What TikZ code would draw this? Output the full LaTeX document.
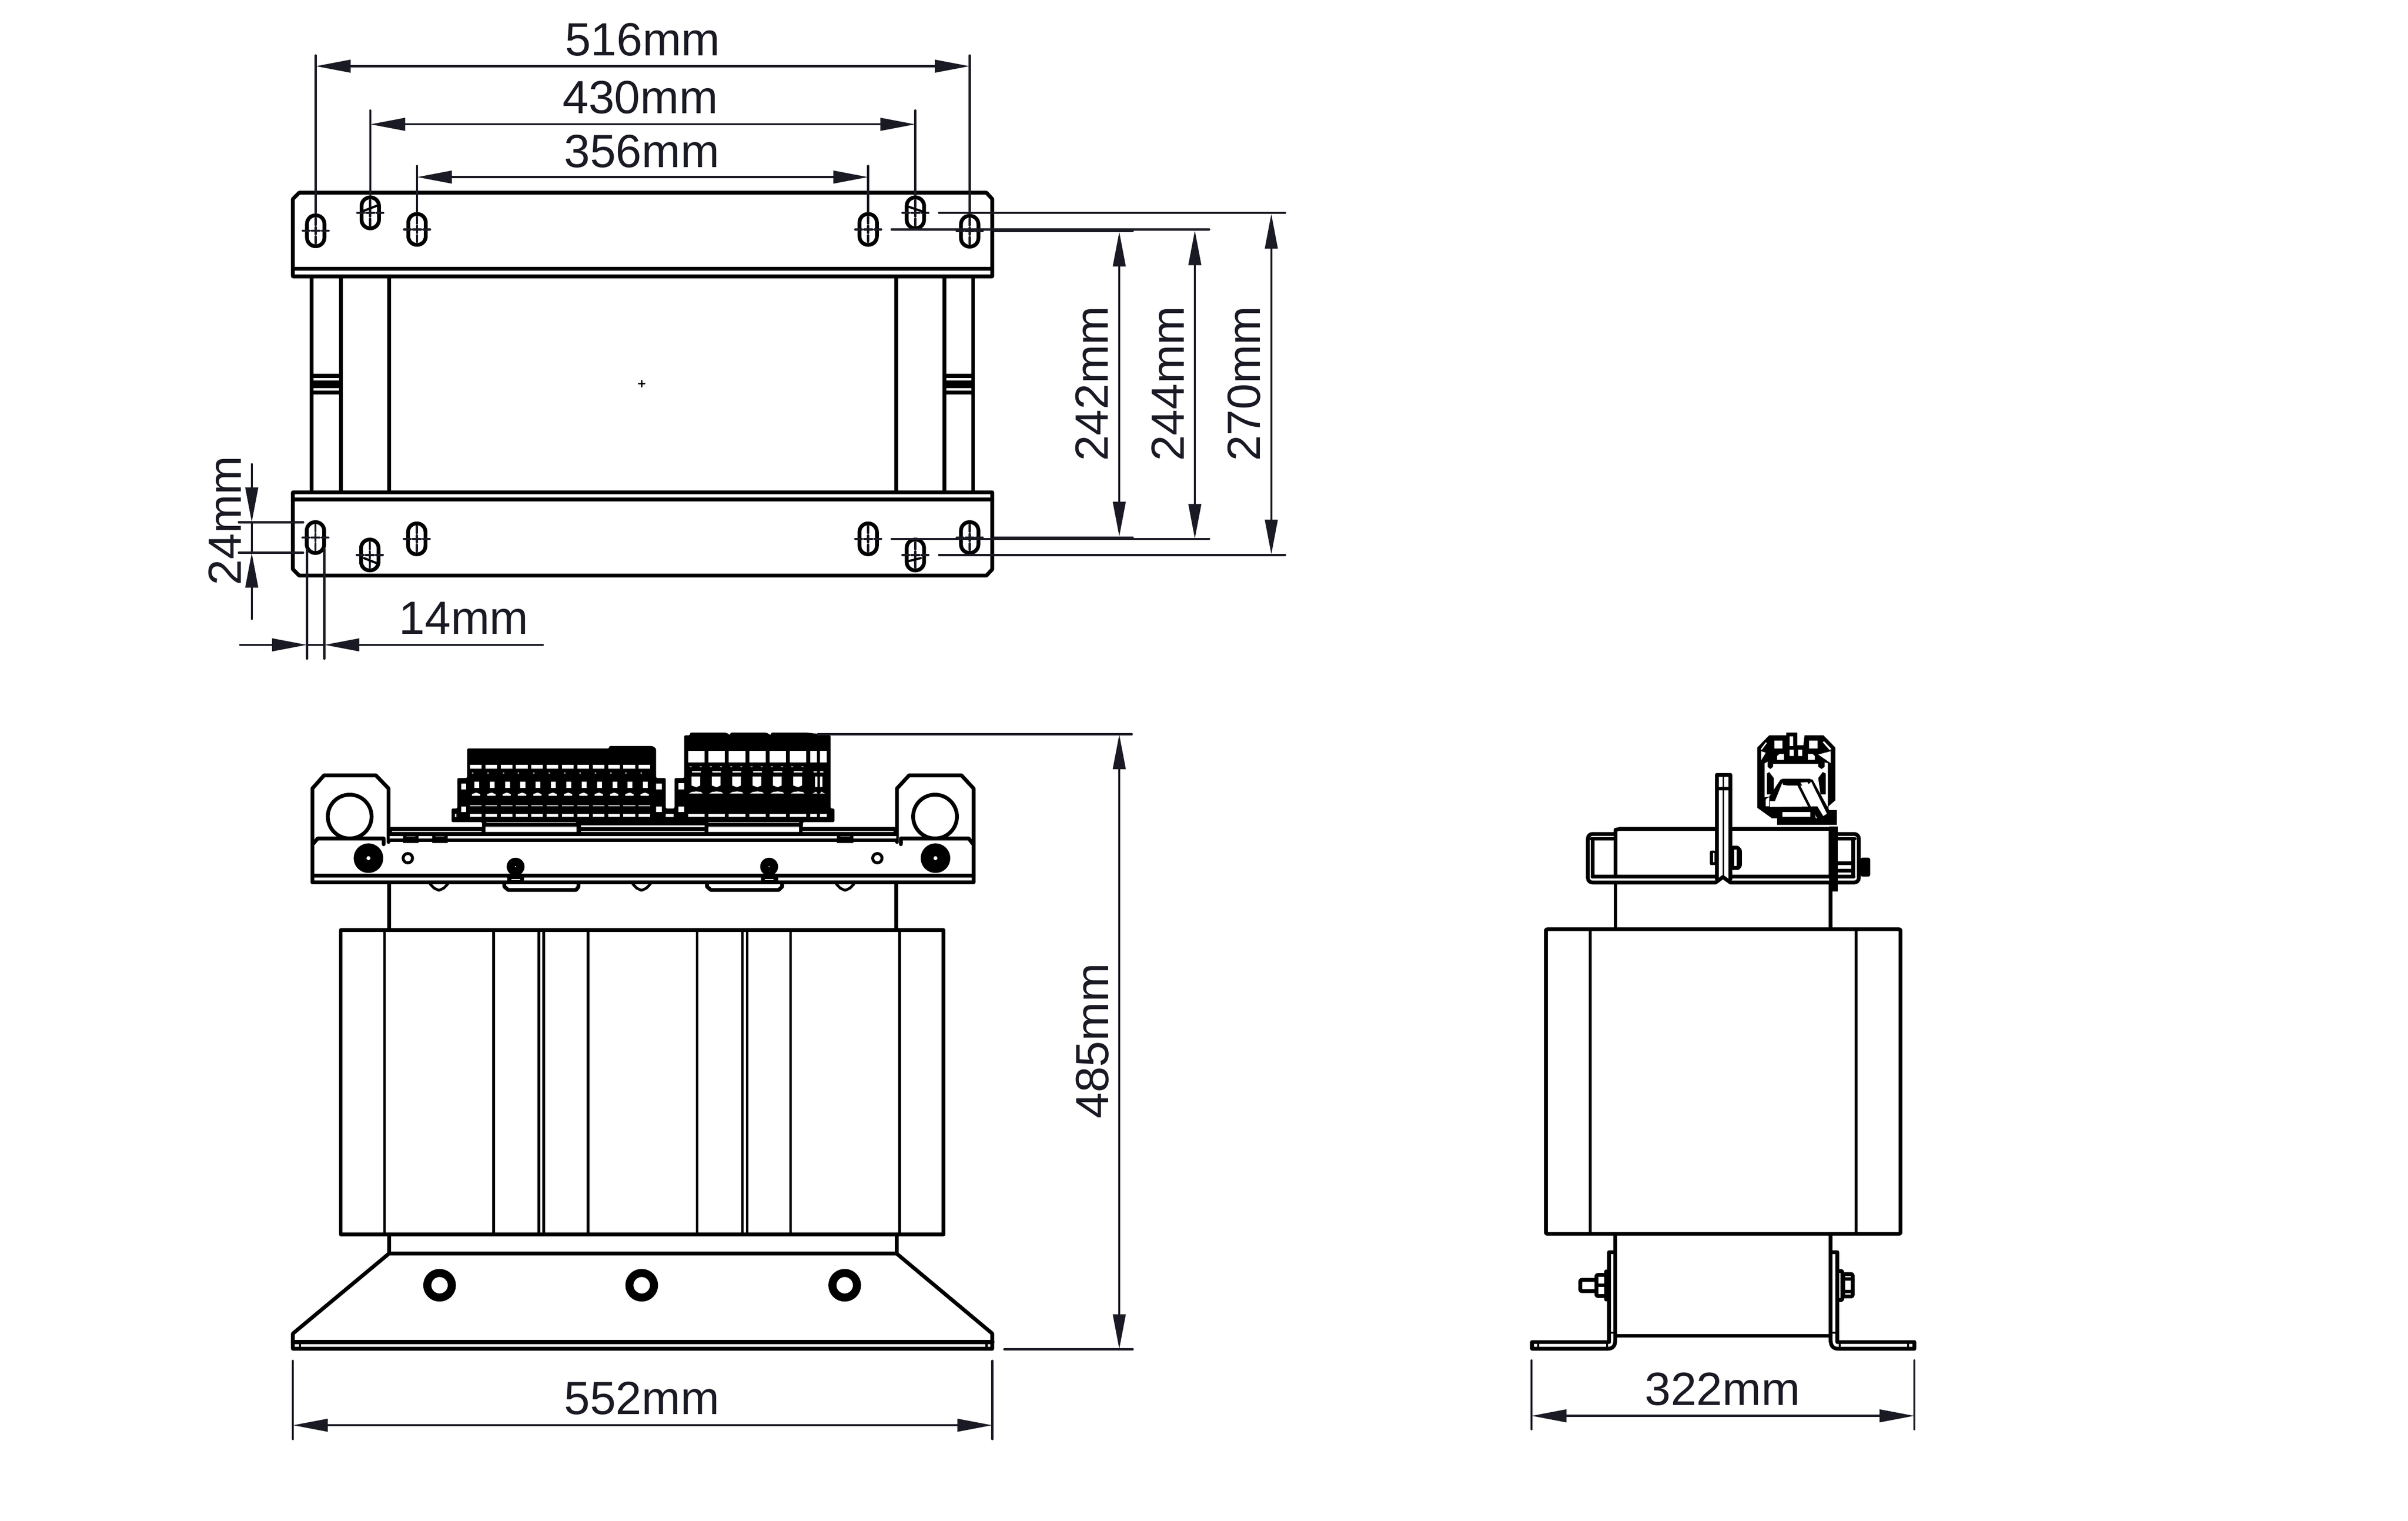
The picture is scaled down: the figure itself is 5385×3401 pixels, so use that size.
\documentclass[tikz,border=0pt]{standalone}
\usepackage{fontspec}
\setmainfont{Liberation Sans}
\usetikzlibrary{arrows.meta}
\definecolor{dimc}{HTML}{1A1A24}
\tikzset{
  obj/.style={draw=black,line width=.085cm,line join=round,line cap=round},
  objthin/.style={draw=black,line width=.05cm,line join=round,line cap=round},
  dimline/.style={draw=dimc,line width=.048cm,line cap=round},
  dimhead/.style={-{Triangle[length=.78cm,width=.28cm]}},
  dimboth/.style={{Triangle[length=.78cm,width=.28cm]}-{Triangle[length=.78cm,width=.28cm]}},
  dimlabel/.style={text=dimc,inner sep=0pt,anchor=base,font=\fontsize{29.6}{29.6}\selectfont},
}
\newcommand{\slotmark}[2]{%
  \draw[obj,rounded corners=.19cm] (#1-19.5,#2-34.5) rectangle (#1+19.5,#2+34.5);
  \draw[dimline,line width=.05cm] (#1-29,#2)--(#1-14,#2) (#1-9,#2)--(#1+9,#2) (#1+14,#2)--(#1+29,#2)
     (#1,#2-28)--(#1,#2-13) (#1,#2-8)--(#1,#2+8) (#1,#2+13)--(#1,#2+28);}
\begin{document}
\begin{tikzpicture}[x=.01cm,y=-.01cm]
\useasboundingbox (0,0) rectangle (5385,3401);
% ================= TOP VIEW
\draw[obj] (669,431)--(2206,431)--(2219,445)--(2219,618)--(655,618)--(655,445)--cycle;
\draw[obj] (655,601)--(2219,601);
\draw[obj] (655,1101)--(2219,1101)--(2219,1273)--(2206,1287)--(669,1287)--(655,1273)--cycle;
\draw[obj] (655,1117)--(2219,1117);
\foreach \x in {697,762.5,870,2004.6,2111.7,2176} \draw[obj] (\x,618)--(\x,1101);
\foreach \a/\b in {697/762.5,2111.7/2176}{
  \fill[black] (\a,836) rectangle (\b,845);
  \fill[black] (\a,851) rectangle (\b,868);
  \fill[black] (\a,873) rectangle (\b,882);
}
\draw[objthin,line width=.03cm] (1428,858)--(1442,858) (1435,851)--(1435,865);
\slotmark{706}{516}\slotmark{828}{476}\slotmark{932.6}{513}
\slotmark{1941.5}{513}\slotmark{2047}{476}\slotmark{2168.5}{517}
\slotmark{705.4}{1202}\slotmark{827}{1241}\slotmark{932}{1205}
\slotmark{1941.5}{1205}\slotmark{2047}{1241}\slotmark{2168.5}{1202}
\draw[objthin] (812,472)--(843,460) (2031,462)--(2069,475) (814,1248)--(844,1260) (2031,1255)--(2059,1248);
% top dims
\draw[dimline] (706,124)--(706,475) (2168.5,124)--(2168.5,478);
\draw[dimline] (828,247)--(828,436) (2047,247)--(2047,436);
\draw[dimline] (932.6,371)--(932.6,473) (1941.5,371)--(1941.5,473);
\draw[dimline,dimboth] (706,148)--(2168.5,148);
\draw[dimline,dimboth] (828,278)--(2047,278);
\draw[dimline,dimboth] (932.6,396)--(1941.5,396);
\node[dimlabel] (l516) at (1437,124) {516mm};
\node[dimlabel] (l430) at (1432,254) {430mm};
\node[dimlabel] (l356) at (1435,374) {356mm};
% right dims top view
\draw[dimline] (2100,476)--(2874,476) (1994,513)--(2704,513) (2224,517)--(2533,517);
\draw[dimline] (2100,1241)--(2874,1241) (1994,1205)--(2704,1205) (2224,1202)--(2533,1202);
\draw[dimline,dimboth] (2503,518)--(2503,1200);
\draw[dimline,dimboth] (2672,515)--(2672,1205);
\draw[dimline,dimboth] (2843,478)--(2843,1240);
\node[dimlabel,rotate=90] (l242) at (2478,858) {242mm};
\node[dimlabel,rotate=90] (l244) at (2648,858) {244mm};
\node[dimlabel,rotate=90] (l270) at (2818,858) {270mm};
% 24 mm
\draw[dimline] (534,1168)--(678,1168) (534,1236)--(678,1236);
\draw[dimline,dimhead] (563,1038)--(563,1168);
\draw[dimline,dimhead] (563,1384)--(563,1236);
\draw[dimline] (563,1168)--(563,1236);
\node[dimlabel,rotate=90] (l24) at (539,1164) {24mm};
% 14 mm
\draw[dimline] (686.5,1228)--(686.5,1473) (725.5,1228)--(725.5,1473);
\draw[dimline,dimhead] (537,1442)--(686.5,1442);
\draw[dimline,dimhead] (1214,1442)--(725.5,1442);
\draw[dimline] (686.5,1442)--(725.5,1442);
\node[dimlabel] (l14) at (1037,1418) {14mm};
% ================= FRONT VIEW
% core
\draw[obj] (762,2080)--(2110,2080)--(2110,2760)--(762,2760)--cycle;
\foreach \x in {860,1104,1205,1216,1315,1559,1660,1671,1768,2012} \draw[obj,line width=.06cm] (\x,2080)--(\x,2760);
% base
\draw[obj] (870,2760)--(870,2803) (2005,2760)--(2005,2803);
\draw[obj] (870,2803)--(2005,2803)--(2219,2982)--(2219,3016)--(655,3016)--(655,2982)--cycle;
\draw[obj,line width=.1cm] (655,3001)--(2219,3001);
\draw[objthin] (671,3001)--(671,3016) (2206,3001)--(2206,3016);
\foreach \x in {983,1435,1889} \draw[obj,line width=.18cm] (\x,2874) circle[radius=27.5];
% posts upper
\draw[obj] (870,1978)--(870,2080) (2004,1978)--(2004,2080);
% ears circles
\draw[obj] (782,1826) circle[radius=49];
\draw[obj] (2091,1826) circle[radius=49];
\begin{scope}[shift={(600,1600)},x=.01084cm,y=-.003333cm]
  % ears and plate
  \draw[obj] (91,1120)--(91,490)--(115,402)--(222,402)--(248,490)--(248,850);
  \draw[obj] (1297,850)--(1297,490)--(1322,402)--(1430,402)--(1455,490)--(1455,1120);
  \draw[obj] (91,1120)--(1455,1120);
  \draw[obj] (91,1075)--(1455,1075);
  \draw[obj] (93,860)--(102,826)--(238,826)--(238,865);
  \draw[obj] (1305,865)--(1305,826)--(1445,826)--(1453,860);
  % tabs and bumps
  \foreach \x in {352,770,1190} \draw[obj,line width=.06cm] (\x-18,1133)--(\x-10,1160)--(\x,1175)--(\x+10,1160)--(\x+18,1133);
  \draw[obj] (487,1133)--(487,1150)--(495,1172)--(635,1172)--(640,1150)--(640,1133);
  \draw[obj] (905,1133)--(905,1150)--(913,1172)--(1053,1172)--(1060,1150)--(1060,1133);
  % nibs
  \fill[black] (493,1075) rectangle (527,1108); \fill[white] (502,1097) rectangle (520,1106);
  \fill[black] (1016,1075) rectangle (1052,1108); \fill[white] (1024,1097) rectangle (1042,1106);
  % rail
  \fill[black] (250,750) rectangle (1295,850);
  \fill[white] (255,776) rectangle (440,782) (645,776) rectangle (900,782) (1102,776) rectangle (1290,782);
  \fill[white] (448,747) rectangle (636,782) (908,747) rectangle (1095,782);
  \fill[white] (645,738) rectangle (900,750);
  \fill[white] (250,810) rectangle (1295,825);
  \fill[black] (278,810) rectangle (310,857) (338,810) rectangle (370,857) (1173,810) rectangle (1207,857);
  \fill[white] (285,813) rectangle (303,816) (345,813) rectangle (363,816) (1180,813) rectangle (1200,816);
  % terminal bodies
  \fill[black,rounded corners=.03cm] (410,222)--(703,222)--(703,205)--(793,205)--(800,222)--(800,420)--(820,420)--(820,625)--(838,625)--(838,420)--(858,420)--(858,133)--(870,133)--(870,115)--(945,115)--(953,133)--(953,115)--(1028,115)--(1037,133)--(1037,115)--(1112,115)--(1160,133)--(1160,625)--(1168,625)--(1168,716)--(1103,716)--(1103,750)--(441,750)--(441,716)--(378,716)--(378,625)--(390,625)--(390,420)--(410,420)--cycle;
  \fill[black] (441,716) rectangle (1103,750);
  \fill[white] (450,716) rectangle (635,720) (908,716) rectangle (1095,720);
  \fill[white] (448,747) rectangle (636,750) (908,747) rectangle (1095,750) (645,738) rectangle (900,750);
  \foreach \i in {0,...,11}{
    \pgfmathsetmacro{\xa}{416+31.65*\i}
    \fill[white] (\xa,330) rectangle (\xa+24,357);
    \fill[white] (\xa+4,384) rectangle (\xa+7,389);
    \fill[white] (\xa+9,445) rectangle (\xa+19,488);
    \fill[white] (\xa+4,540)--(\xa+4,528)--(\xa+13,518)--(\xa+21,528)--(\xa+21,540)--cycle;
    \fill[white] (\xa,603) rectangle (\xa+24,611);
    \fill[white] (\xa,662) rectangle (\xa+24,682);
  }
  \fill[white] (398,457) rectangle (408,497) (800,457) rectangle (812,497) (398,612) rectangle (408,648) (800,612) rectangle (812,648);
  \fill[white] (846,455) rectangle (858,497) (846,612) rectangle (858,648) (385,662) rectangle (388,682) (820,662) rectangle (836,682);
  \foreach \i in {0,...,5}{
    \pgfmathsetmacro{\xb}{866+42*\i}
    \fill[white] (\xb,238) rectangle (\xb+34,315);
    \fill[white] (\xb,662) rectangle (\xb+34,682);
    \fill[white] (\xb+8,375) rectangle (\xb+26,383);
    \fill[white] (\xb+7,410)--(\xb+7,470)--(\xb+17,482)--(\xb+25,470)--(\xb+25,410)--cycle;
    \fill[white] (\xb+2,524)--(\xb+7,514)--(\xb+17,510)--(\xb+27,514)--(\xb+30,524)--cycle;
    \fill[white] (\xb+3,342) rectangle (\xb+7,347) (\xb+24,342) rectangle (\xb+28,347);
  }
  \fill[white] (1118,238) rectangle (1132,315) (1138,238) rectangle (1152,315);
  \fill[white] (1118,662) rectangle (1132,682) (1138,662) rectangle (1152,682);
  \fill[white] (1125,375) rectangle (1132,383) (1138,375) rectangle (1145,383);
  \fill[white] (1128,410) rectangle (1133,480) (1138,410) rectangle (1143,480);
  \fill[white] (1123,524)--(1130,512)--(1133,524)--cycle (1138,524)--(1141,512)--(1148,524)--cycle;
\end{scope}
% screws
\foreach \x in {824,2092}{\fill[black] (\x,1919) circle[radius=33]; \fill[white] (\x,1919) circle[radius=4.5];}
\foreach \x in {912,1962}\draw[obj,line width=.065cm] (\x,1919) circle[radius=10.5];
\foreach \x in {1153,1720}{\fill[black] (\x,1938) circle[radius=20]; \fill[white] (\x,1938) circle[radius=1.5];}
% front dims
\draw[dimline] (655,3043)--(655,3218) (2219,3043)--(2219,3218);
\draw[dimline,dimboth] (655,3187)--(2219,3187);
\node[dimlabel] (l552) at (1435,3163) {552mm};
\draw[dimline] (1829,1642)--(2531,1642) (2246,3017)--(2533,3017);
\draw[dimline,dimboth] (2503,1642)--(2503,3017);
\node[dimlabel,rotate=90] (l485) at (2479,2328) {485mm};
% ================= SIDE VIEW
\draw[obj,rounded corners=.03cm] (3457,2078)--(4250,2078)--(4250,2759)--(3457,2759)--cycle;
\draw[obj,line width=.06cm] (3556,2078)--(3556,2759) (4151,2078)--(4151,2759);
\draw[obj] (3612,2759)--(3612,3000) (4094,2759)--(4094,3000);
\draw[obj] (3612,2987)--(4094,2987);
\draw[obj] (3598.5,3001)--(3598.5,2800)--(3612,2800);
\draw[obj] (4109,3001)--(4109,2800)--(4094,2800);
% feet
\draw[obj] (3598,3001)--(3426,3001)--(3426,3016)--(3595,3016) .. controls (3606,3016) and (3612,3010) .. (3612,2998);
\draw[obj] (4109,3001)--(4281,3001)--(4281,3016)--(4111,3016) .. controls (4100,3016) and (4094,3010) .. (4094,2998);
\draw[objthin] (3440,3003)--(3440,3014) (3594,3003)--(3594,3014) (4114,3003)--(4114,3014) (4267,3003)--(4267,3014);
\draw[objthin] (3598,2980)--(3612,2980) (4094,2980)--(4109,2980);
% bolts lower
\draw[obj,rounded corners=.03cm] (3569,2862)--(3534,2862)--(3534,2887)--(3569,2887);
\draw[obj,rounded corners=.03cm] (3591,2851)--(3570,2851)--(3570,2898)--(3591,2898);
\draw[obj] (3570,2874)--(3591,2874);
\draw[obj] (3592,2843)--(3592,2906);
\draw[obj,rounded corners=.03cm] (4111,2842)--(4120,2842)--(4120,2907)--(4111,2907);
\draw[obj,rounded corners=.03cm] (4122,2849)--(4143,2849)--(4143,2899)--(4122,2899)--cycle;
\draw[obj] (4122,2860)--(4143,2860) (4122,2888)--(4143,2888);
\begin{scope}[shift={(3500,1600)},x=.005102cm,y=-.003333cm]
  % posts
  \draw[obj] (221,1125)--(221,1430) (1165,1125)--(1165,1430);
  % left band
  \draw[obj,rounded corners=.1cm] (215,796)--(100,796)--(100,1122)--(660,1122);
  \draw[obj] (120,840)--(120,1083);
  \draw[obj] (115,828)--(215,828);
  \draw[obj] (221,1083)--(221,768)--(240,762)--(660,762);
  \draw[obj] (120,1083)--(660,1083);
  \draw[obj] (660,1122)--(692,1085) (692,1085)--(725,1122);
  % right band
  \draw[obj] (730,762)--(1165,762)--(1165,1083);
  \draw[obj] (730,1083)--(1265,1083);
  \draw[obj,rounded corners=.1cm] (725,1122)--(1288,1122)--(1288,796)--(1195,796);
  \draw[obj] (1195,828)--(1270,828);
  \draw[obj] (1264,840)--(1264,1083);
  % centre plates
  \draw[obj] (665,1100)--(665,398)--(724,398)--(724,1100);
  \draw[obj,line width=.04cm] (694,398)--(694,1090);
  \fill[black] (660,480) rectangle (730,503);
  % plate nuts
  \fill[black,rounded corners=.03cm] (635,908) rectangle (660,1005); \fill[white] (648,925) rectangle (655,985);
  \fill[black,rounded corners=.03cm] (730,875)--(760,875)--(775,900)--(775,1015)--(762,1038)--(730,1038)--cycle; \fill[white] (742,900) rectangle (752,1010);
  % thick right post and bolt
  \fill[black] (1158,745) rectangle (1195,1130);
  \fill[black] (1158,1130) rectangle (1195,1182);
  \fill[black] (1195,980) rectangle (1255,1005) (1195,1030) rectangle (1255,1055) (1195,1070) rectangle (1255,1095);
  \fill[black,rounded corners=.04cm] (1295,955) rectangle (1338,1082);
  % terminal
  \fill[black] (843,215)--(895,133)--(970,133)--(970,115)--(1018,115)--(1018,200)--(1045,200)--(1050,133)--(1133,133)--(1185,215)--(1185,570)--(1155,610)--(1155,635)--(1192,635)--(1192,735)--(930,735)--(930,690)--(905,688)--(843,620)--cycle;
  \fill[white] (918,168) rectangle (953,222) (1070,168) rectangle (1107,222) (985,140) rectangle (1000,205) (985,230) rectangle (1003,272) (1022,230) rectangle (1040,272);
  \fill[white] (930,298)--(930,272)--(940,258)--(960,258)--(960,298)--cycle;
  \fill[white] (1065,298)--(1065,258)--(1085,258)--(1095,272)--(1095,298)--cycle;
  \fill[white] (858,225)--(880,180)--(885,185)--(862,232)--cycle (1168,225)--(1135,172)--(1130,180)--(1160,232)--cycle;
  \fill[white] (860,240)--(880,250)--(860,300)--cycle (1165,240)--(1110,262)--(1165,320)--cycle;
  \fill[white] (875,615)--(875,322)--(888,310)--(888,345)--(900,360)--(912,345)--(912,325)--(1110,325)--(1110,345)--(1125,360)--(1138,345)--(1138,315)--(1152,320)--(1152,610)--cycle;
  % cavity contents
  \fill[black] (885,530)--(885,390)--(895,380)--(915,420)--(915,520)--(905,530)--cycle;
  \fill[black] (1110,420)--(1130,380)--(1143,390)--(1143,530)--(1120,530)--cycle;
  \fill[black] (950,425)--(1075,425)--(1082,440)--(1062,470)--(975,470)--(955,465)--cycle;
  \fill[black] (945,430)--(958,430)--(920,575)--(898,575)--(898,620)--(875,620)--(875,550)--(895,545)--cycle;
  \fill[white] (880,565)--(890,550)--(895,550)--(895,610)--(880,610)--cycle;
  \fill[black] (1075,430)--(1085,430)--(1160,640)--(1140,640)--cycle;
  \fill[black] (1016,462)--(1028,460)--(1100,680)--(1088,680)--cycle;
  \fill[black] (918,618) rectangle (1150,650);
  \fill[black] (905,650) rectangle (953,690) (1075,650) rectangle (1192,690);
  \fill[white] (953,650) rectangle (1075,680);
  \fill[white] (1032,450)--(1062,448)--(1075,475)--(1050,495)--cycle;
  \fill[white] (1075,530)--(1103,520)--(1148,660)--(1132,675)--cycle;
  \fill[white] (1095,665)--(1100,690)--(1105,690)--cycle;
\end{scope}
% side dims
\draw[dimline] (3425,3042)--(3425,3196) (4281,3042)--(4281,3196);
\draw[dimline,dimboth] (3425,3166)--(4281,3166);
\node[dimlabel] (l322) at (3852,3142) {322mm};
\end{tikzpicture}
\end{document}
